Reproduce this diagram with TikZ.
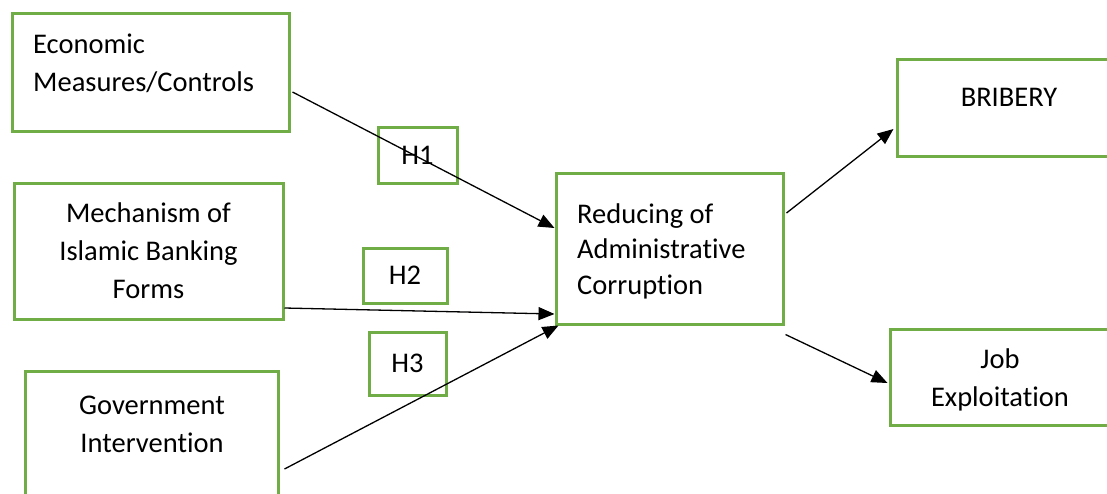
\documentclass[tikz,border=0pt]{standalone}
\usepackage{fontspec}
\setmainfont[Ligatures=NoCommon]{Carlito}
\usetikzlibrary{arrows.meta,calc}
\definecolor{boxgreen}{HTML}{70AD47}
\tikzset{box/.style={draw=boxgreen, line width=3pt, inner sep=0pt, align=center},
	hyp/.style={box, minimum width=79pt, minimum height=56pt},
	txt/.style={inner sep=0pt, align=center}}

\begin{document}
\begin{tikzpicture}[x=1pt, y=-1pt, font=\fontsize{28.5}{38}\selectfont]
		\useasboundingbox (0,0) rectangle (1107,493);
		\clip (0,0) rectangle (1107,493);
		% factors on the left
		\node[box, minimum width=277pt, minimum height=118pt] (econ) at (150.5,72) {};
		\node[txt, align=left, anchor=base west] (econtxt) at (33,91) {Economic\\Measures/Controls};
		\node[box, minimum width=269pt, minimum height=136pt] (mech) at (148.5,251) {Mechanism of\\Islamic Banking\\Forms};
		\node[box, minimum width=253pt, minimum height=170pt] (gov) at (151.5,456) {};
		\node[txt, anchor=base] (govtxt) at (152,452) {Government\\Intervention};
		% hypotheses
		\node[hyp] (h1) at (417.5,155) {H1};
		\node[hyp, minimum width=84pt, minimum height=55pt] (h2) at (405,275.5) {H2};
		\node[hyp, minimum width=77pt, minimum height=63pt] (h3) at (407.5,363.5) {H3};
		% centre and outcomes
		\node[box, minimum width=227pt, minimum height=151pt] (ctr) at (669.5,248.5) {};
		\node[txt, align=left, anchor=base west, font=\fontsize{28.5}{35.5}\selectfont] (ctrtxt) at (577,294) {Reducing of\\Administrative\\Corruption};
		\node[box, minimum width=224pt, minimum height=97pt] (brib) at (1009,107.5) {};
		\node[txt, anchor=base] (bribtxt) at (1009,106) {BRIBERY};
		\node[box, minimum width=220pt, minimum height=96pt] (job) at (1000,377) {};
		\node[txt, anchor=base] (jobtxt) at (1000,406) {Job\\Exploitation};
		\begin{scope}[>={Triangle[length=16pt,width=13pt]},
			every edge/.style={draw,line width=1.3pt}]
			\path [->] ($(econ.east)+(2,20)$) edge ($(ctr.west)+(0,-20.5)$);
			\path [->] ($(mech.east)+(0,57)$) edge ($(ctr.west)+(0,65.5)$);
			\path [->] ($(gov.east)+(5,13)$) edge ($(ctr.south west)+(4,0)$);
			\path [->] ($(ctr.east)+(2,-35.5)$) edge ($(brib.west)+(-2,21.5)$);
			\path [->] ($(ctr.south east)+(1,9)$) edge ($(job.west)+(-1,6)$);
		\end{scope}
	\end{tikzpicture}
\end{document}
